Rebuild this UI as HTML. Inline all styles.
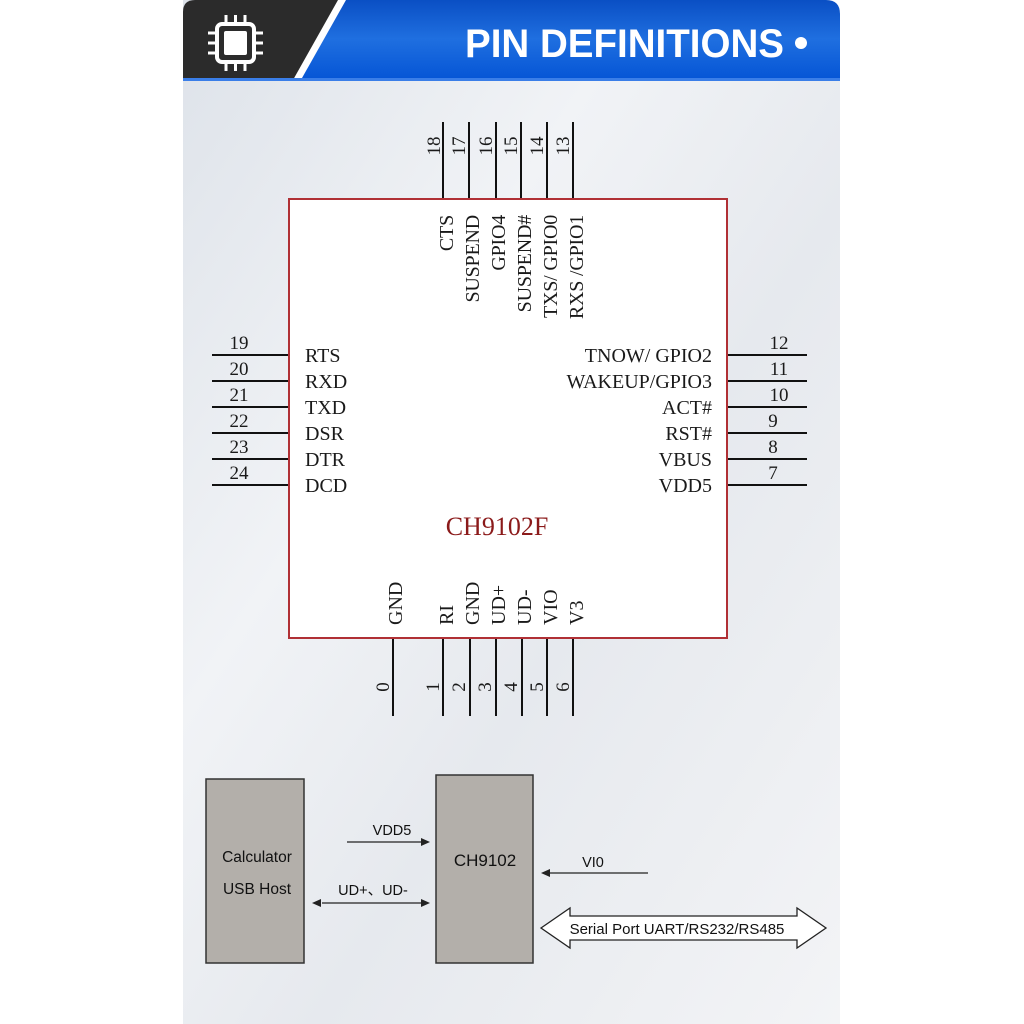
<!DOCTYPE html>
<html><head><style>
html,body{margin:0;padding:0;background:#fff;width:1024px;height:1024px;overflow:hidden}
</style></head><body>
<svg width="1024" height="1024" viewBox="0 0 1024 1024" xmlns="http://www.w3.org/2000/svg">
<defs>
<linearGradient id="bg" x1="0" y1="0" x2="1" y2="1">
<stop offset="0" stop-color="#dde2e9"/><stop offset="0.35" stop-color="#f1f3f6"/><stop offset="0.6" stop-color="#e6e9ee"/><stop offset="1" stop-color="#f3f4f6"/>
</linearGradient>
<linearGradient id="blue" x1="0" y1="0" x2="0" y2="1">
<stop offset="0" stop-color="#0a4fc4"/><stop offset="0.5" stop-color="#1f6fe0"/><stop offset="1" stop-color="#0656d6"/>
</linearGradient>
</defs>
<rect x="183" y="0" width="657" height="1024" fill="url(#bg)"/>
<path d="M195 0 H828 Q840 0 840 12 V80 H183 V12 Q183 0 195 0Z" fill="#2b2b2b"/>
<polygon points="338,0 840,0 840,80 293,80" fill="#fff"/>
<path d="M346 0 H826 Q840 0 840 14 V78 H302 Z" fill="url(#blue)"/>
<rect x="183" y="78" width="657" height="3" fill="#3a7ee8"/>
<g fill="none" stroke="#fff" stroke-width="4">
<rect x="217" y="24" width="37" height="38" rx="5"/>
</g>
<rect x="224" y="31" width="23" height="24" rx="2" fill="#fff"/>
<g stroke="#fff" stroke-width="3">
<line x1="226" y1="15" x2="226" y2="24"/><line x1="235.5" y1="15" x2="235.5" y2="24"/><line x1="245" y1="15" x2="245" y2="24"/>
<line x1="226" y1="62" x2="226" y2="71"/><line x1="235.5" y1="62" x2="235.5" y2="71"/><line x1="245" y1="62" x2="245" y2="71"/>
<line x1="208" y1="33" x2="217" y2="33"/><line x1="208" y1="43" x2="217" y2="43"/><line x1="208" y1="53" x2="217" y2="53"/>
<line x1="254" y1="33" x2="263" y2="33"/><line x1="254" y1="43" x2="263" y2="43"/><line x1="254" y1="53" x2="263" y2="53"/>
</g>
<text x="465" y="57" font-family="Liberation Sans, sans-serif" font-size="40" font-weight="bold" fill="#fff" textLength="319" lengthAdjust="spacingAndGlyphs">PIN DEFINITIONS</text>
<circle cx="801" cy="43" r="6" fill="#fff"/>

<g stroke="#111" stroke-width="2">
<line x1="443" y1="122" x2="443" y2="199"/><line x1="469" y1="122" x2="469" y2="199"/><line x1="496" y1="122" x2="496" y2="199"/>
<line x1="521" y1="122" x2="521" y2="199"/><line x1="547" y1="122" x2="547" y2="199"/><line x1="573" y1="122" x2="573" y2="199"/>
<line x1="393" y1="638" x2="393" y2="716"/><line x1="443" y1="638" x2="443" y2="716"/><line x1="470" y1="638" x2="470" y2="716"/>
<line x1="496" y1="638" x2="496" y2="716"/><line x1="522" y1="638" x2="522" y2="716"/><line x1="547" y1="638" x2="547" y2="716"/><line x1="573" y1="638" x2="573" y2="716"/>
<line x1="212" y1="355" x2="289" y2="355"/><line x1="212" y1="381" x2="289" y2="381"/><line x1="212" y1="407" x2="289" y2="407"/>
<line x1="212" y1="433" x2="289" y2="433"/><line x1="212" y1="459" x2="289" y2="459"/><line x1="212" y1="485" x2="289" y2="485"/>
<line x1="727" y1="355" x2="807" y2="355"/><line x1="727" y1="381" x2="807" y2="381"/><line x1="727" y1="407" x2="807" y2="407"/>
<line x1="727" y1="433" x2="807" y2="433"/><line x1="727" y1="459" x2="807" y2="459"/><line x1="727" y1="485" x2="807" y2="485"/>
</g>
<rect x="289" y="199" width="438" height="439" fill="#fff" stroke="#b03035" stroke-width="2"/>
<g font-family="Liberation Serif, serif" font-size="19" fill="#1a1a1a">
<g text-anchor="middle">
<text transform="translate(440,146) rotate(-90)">18</text>
<text transform="translate(465,146) rotate(-90)">17</text>
<text transform="translate(492,146) rotate(-90)">16</text>
<text transform="translate(517,146) rotate(-90)">15</text>
<text transform="translate(543,146) rotate(-90)">14</text>
<text transform="translate(569,146) rotate(-90)">13</text>
</g>
<g text-anchor="end" font-size="20" letter-spacing="-0.2">
<text transform="translate(453,215) rotate(-90)">CTS</text>
<text transform="translate(479,215) rotate(-90)">SUSPEND</text>
<text transform="translate(505,215) rotate(-90)">GPIO4</text>
<text transform="translate(531,215) rotate(-90)">SUSPEND#</text>
<text transform="translate(557,215) rotate(-90)">TXS/ GPIO0</text>
<text transform="translate(583,215) rotate(-90)">RXS /GPIO1</text>
</g>
<g font-size="20">
<text transform="translate(402,625) rotate(-90)">GND</text>
<text transform="translate(453,625) rotate(-90)">RI</text>
<text transform="translate(479,625) rotate(-90)">GND</text>
<text transform="translate(505,625) rotate(-90)">UD+</text>
<text transform="translate(531,625) rotate(-90)">UD-</text>
<text transform="translate(557,625) rotate(-90)">VIO</text>
<text transform="translate(583,625) rotate(-90)">V3</text>
</g>
<g text-anchor="middle">
<text transform="translate(389,687) rotate(-90)">0</text>
<text transform="translate(439,687) rotate(-90)">1</text>
<text transform="translate(465,687) rotate(-90)">2</text>
<text transform="translate(491,687) rotate(-90)">3</text>
<text transform="translate(517,687) rotate(-90)">4</text>
<text transform="translate(543,687) rotate(-90)">5</text>
<text transform="translate(569,687) rotate(-90)">6</text>
</g>
<g text-anchor="middle">
<text x="239" y="349">19</text><text x="239" y="375">20</text><text x="239" y="401">21</text>
<text x="239" y="427">22</text><text x="239" y="453">23</text><text x="239" y="479">24</text>
<text x="779" y="349">12</text><text x="779" y="375">11</text><text x="779" y="401">10</text>
<text x="773" y="427">9</text><text x="773" y="453">8</text><text x="773" y="479">7</text>
</g>
<g font-size="20">
<text x="305" y="362">RTS</text><text x="305" y="388">RXD</text><text x="305" y="414">TXD</text>
<text x="305" y="440">DSR</text><text x="305" y="466">DTR</text><text x="305" y="492">DCD</text>
</g>
<g font-size="20" text-anchor="end">
<text x="712" y="362">TNOW/ GPIO2</text><text x="712" y="388">WAKEUP/GPIO3</text><text x="712" y="414">ACT#</text>
<text x="712" y="440">RST#</text><text x="712" y="466">VBUS</text><text x="712" y="492">VDD5</text>
</g>
<text x="497" y="535" text-anchor="middle" font-size="26" fill="#8b1a1a">CH9102F</text>
</g>

<rect x="206" y="779" width="98" height="184" fill="#b3afaa" stroke="#333" stroke-width="1.5"/>
<rect x="436" y="775" width="97" height="188" fill="#b3afaa" stroke="#333" stroke-width="1.5"/>
<g font-family="Liberation Sans, sans-serif" fill="#111">
<text x="257" y="862" text-anchor="middle" font-size="15.5">Calculator</text>
<text x="257" y="894" text-anchor="middle" font-size="15.5">USB Host</text>
<text x="485" y="866" text-anchor="middle" font-size="17">CH9102</text>
<text x="392" y="835" text-anchor="middle" font-size="14.5">VDD5</text>
<text x="373" y="895" text-anchor="middle" font-size="14.5">UD+、UD-</text>
<text x="593" y="867" text-anchor="middle" font-size="14.5">VI0</text>
</g>
<g stroke="#222" stroke-width="1.3">
<line x1="347" y1="842" x2="424" y2="842"/>
<line x1="322" y1="903" x2="424" y2="903"/>
<line x1="550" y1="873" x2="648" y2="873"/>
</g>
<g fill="#222">
<polygon points="430,842 421,838 421,846"/>
<polygon points="430,903 421,899 421,907"/>
<polygon points="312,903 321,899 321,907"/>
<polygon points="541,873 550,869 550,877"/>
</g>
<polygon points="541,928 570,908 570,916 797,916 797,908 826,928 797,948 797,940 570,940 570,948" fill="#fff" stroke="#222" stroke-width="1.3"/>
<text x="677" y="934" text-anchor="middle" font-family="Liberation Sans, sans-serif" font-size="15" fill="#111">Serial Port UART/RS232/RS485</text>
</svg>
</body></html>
